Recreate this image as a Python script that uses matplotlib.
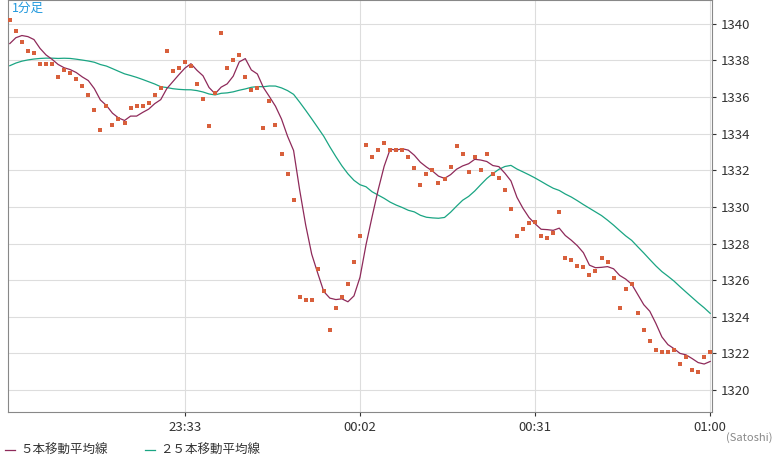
import matplotlib
matplotlib.use("Agg")
import matplotlib.pyplot as plt
import numpy as np
import pandas as pd

plt.rcParams['font.family'] = ['Noto Sans CJK JP', 'DejaVu Sans']

prior_prices = [1336.0, 1336.4, 1336.8, 1337.2, 1337.0, 1337.4, 1337.8, 1337.5, 1337.2, 1337.6,
                1338.0, 1337.8, 1337.4, 1337.0, 1337.3, 1337.6, 1338.0, 1338.4, 1338.1, 1337.7,
                1338.0, 1338.4, 1338.8, 1339.2]
prices = [1340.2, 1339.6, 1339.0, 1338.5, 1338.4, 1337.8, 1337.8, 1337.8, 1337.1, 1337.5,
          1337.3, 1337.0, 1336.6, 1336.1, 1335.3, 1334.2, 1335.5, 1334.5, 1334.8, 1334.6,
          1335.4, 1335.5, 1335.5, 1335.7, 1336.1, 1336.5, 1338.5, 1337.4, 1337.6, 1337.9,
          1337.7, 1336.7, 1335.9, 1334.4, 1336.2, 1339.5, 1337.6, 1338.0, 1338.3, 1337.1,
          1336.4, 1336.5, 1334.3, 1335.8, 1334.5, 1332.9, 1331.8, 1330.4, 1325.1, 1324.9,
          1324.9, 1326.6, 1325.4, 1323.3, 1324.5, 1325.1, 1325.8, 1327.0, 1328.4, 1333.4,
          1332.7, 1333.1, 1333.5, 1333.1, 1333.1, 1333.1, 1332.7, 1332.1, 1331.2, 1331.8,
          1332.0, 1331.3, 1331.5, 1332.2, 1333.3, 1332.9, 1331.9, 1332.7, 1332.0, 1332.9,
          1331.8, 1331.6, 1330.9, 1329.9, 1328.4, 1328.8, 1329.1, 1329.2, 1328.4, 1328.3,
          1328.6, 1329.7, 1327.2, 1327.1, 1326.8, 1326.7, 1326.3, 1326.5, 1327.2, 1327.0,
          1326.1, 1324.5, 1325.5, 1325.8, 1324.2, 1323.3, 1322.7, 1322.2, 1322.1, 1322.1,
          1322.2, 1321.4, 1321.8, 1321.1, 1321.0, 1321.8, 1322.1]
tick_labels = ['23:33', '00:02', '00:31', '01:00']
yticks = [1320, 1322, 1324, 1326, 1328, 1330, 1332, 1334, 1336, 1338, 1340]

n = len(prices)
# minutes relative to 00:00, last point at 01:00
t = np.arange(n) - (n - 1) + 60
allp = pd.Series(prior_prices + prices)
ma5 = allp.rolling(5, min_periods=1).mean().values[len(prior_prices):]
ma25 = allp.rolling(25, min_periods=1).mean().values[len(prior_prices):]

fig = plt.figure(figsize=(7.84, 4.62), dpi=100)
ax = fig.add_axes([8/784, 50/462, 704/784, 412/462])
ax.set_xlim(t[0] - 0.3, 60.3)
ax.set_ylim(1318.8, 1341.3)
ax.grid(True, color='#dddddd', lw=0.8)
ax.set_axisbelow(True)
ax.plot(t, ma25, color='#1aa583', lw=0.9)
ax.plot(t, ma5, color='#8e2a5a', lw=0.9)
ax.scatter(t, prices, marker='s', s=9, color='#d8603c', zorder=3, linewidths=0)
ax.set_xticks([-27, 2, 31, 60])
ax.set_xticklabels(tick_labels)
ax.set_yticks(yticks)
ax.yaxis.tick_right()
ax.tick_params(labelsize=9.5, colors='#333333', length=3)
for s in ax.spines.values():
    s.set_color('#888888')
ax.text(0.005, 0.995, '1分足', transform=ax.transAxes, color='#2299dd', fontsize=9, va='top')
fig.text(0.985, 0.045, '(Satoshi)', color='#888888', fontsize=8, ha='right')
fig.add_artist(plt.Line2D([5/784, 15/784], [12/462, 12/462], color='#8e2a5a', lw=0.9))
fig.text(20/784, 12/462, '５本移動平均線', fontsize=9, va='center', color='#333333')
fig.add_artist(plt.Line2D([145/784, 155/784], [12/462, 12/462], color='#1aa583', lw=0.9))
fig.text(160/784, 12/462, '２５本移動平均線', fontsize=9, va='center', color='#333333')
fig.savefig('out.png', dpi=100)
